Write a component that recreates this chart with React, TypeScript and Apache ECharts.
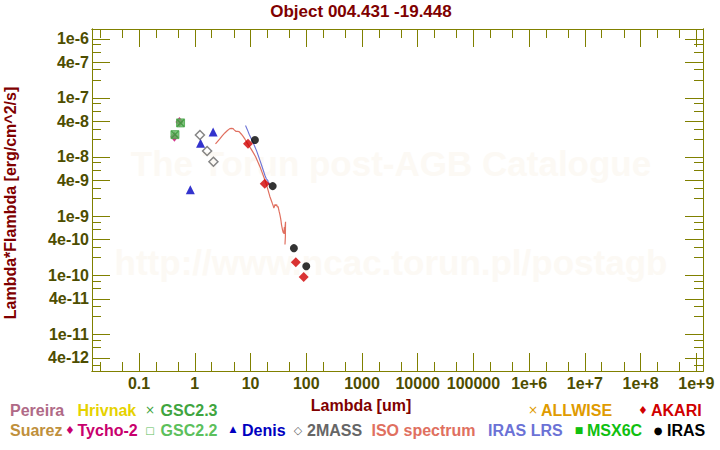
import React, { useEffect, useRef } from "react";
import * as echarts from "echarts";

const TITLE = "Object 004.431 -19.448";
const X_TITLE = "Lambda [um]";
const Y_TITLE = "Lambda*Flambda [erg/cm^2/s]";
const WATERMARK_1 = "The Torun post-AGB Catalogue";
const WATERMARK_2 = "http://www.ncac.torun.pl/postagb";

// axis ranges (real units)
const X_RANGE = [0.01429, 1.318e9];
const Y_RANGE = [2.4e-12, 1.462e-6];

// tick labels
const xTickValues = [0.1, 1, 10, 100, 1000, 1e4, 1e5, 1e6, 1e7, 1e8, 1e9];
const xTickLabels = ["0.1", "1", "10", "100", "1000", "10000", "100000", "1e+6", "1e+7", "1e+8", "1e+9"];
const yTickValues = [1e-6, 4e-7, 1e-7, 4e-8, 1e-8, 4e-9, 1e-9, 4e-10, 1e-10, 4e-11, 1e-11, 4e-12];
const yTickLabels = ["1e-6", "4e-7", "1e-7", "4e-8", "1e-8", "4e-9", "1e-9", "4e-10", "1e-10", "4e-11", "1e-11", "4e-12"];
const xMinorMantissas = [2, 5];
const yMajorMantissas = [1, 4];
const yMinorMantissas = [2, 3, 6, 8];

// photometry [wavelength um, lambda*F_lambda]
const tycho2 = [[0.43, 2.2e-8], [0.53, 3.9e-8]];
const gsc22 = [[0.44, 2.39e-8], [0.555, 3.77e-8]];
const gsc23 = [[0.44, 2.39e-8], [0.555, 3.77e-8]];
const denis = [[0.83, 2.79e-9], [1.27, 1.71e-8], [2.13, 2.65e-8]];
const twoMass = [[1.235, 2.36e-8], [1.662, 1.26e-8], [2.159, 8.3e-9]];
const akari = [[9, 1.68e-8], [18, 3.52e-9], [65, 1.66e-10], [90, 9.35e-11]];
const iras = [[12, 1.94e-8], [25, 3.22e-9], [60, 2.87e-10], [100, 1.42e-10]];
const pereira: number[][] = [];
const hrivnak: number[][] = [];
const suarez: number[][] = [];
const allwise: number[][] = [];
const msx6c: number[][] = [];

const isoSpectrum = [
  [2.35, 1.66e-8], [2.55, 1.82e-8], [2.81, 2.02e-8], [3.1, 2.28e-8], [3.46, 2.55e-8],
  [3.85, 2.8e-8], [4.25, 3.02e-8], [4.55, 3.05e-8], [4.87, 3.02e-8], [5.15, 2.85e-8],
  [5.45, 2.72e-8], [5.8, 2.72e-8], [6.24, 2.69e-8], [6.8, 2.45e-8], [7.36, 2.23e-8],
  [8.0, 1.98e-8], [8.69, 1.73e-8], [9.5, 1.52e-8], [10.4, 1.33e-8], [11.4, 1.15e-8],
  [12.4, 1.0e-8], [13.5, 8.3e-9], [14.7, 6.93e-9], [16.0, 5.6e-9], [17.3, 4.58e-9],
  [18.6, 3.8e-9], [19.9, 3.1e-9], [21.0, 2.6e-9], [22.2, 2.15e-9], [23.5, 1.85e-9],
  [24.8, 1.61e-9], [25.5, 1.5e-9], [26.2, 1.37e-9], [26.8, 1.45e-9], [27.5, 1.58e-9],
  [28.5, 1.5e-9], [29.5, 1.56e-9], [30.3, 1.42e-9], [31.2, 1.46e-9], [32.0, 1.3e-9],
  [32.6, 1.2e-9], [33.5, 1.08e-9], [34.6, 9.25e-10], [35.3, 8.2e-10], [36.0, 7.13e-10],
  [36.8, 6.4e-10], [37.5, 5.86e-10], [38.5, 5.3e-10], [39.6, 5.1e-10], [40.5, 6.5e-10],
  [41.0, 5.0e-10], [41.8, 6.8e-10], [42.5, 8.0e-10], [42.2, 4.5e-10], [41.5, 3.3e-10],
];

const irasLrs = [
  [8.13, 3.4e-8], [8.77, 2.9e-8], [9.44, 2.43e-8], [10.3, 2.04e-8], [11.1, 1.78e-8],
  [11.9, 1.5e-8], [12.8, 1.28e-8], [13.8, 1.05e-8], [14.7, 8.83e-9], [15.7, 7.4e-9],
  [16.8, 6.09e-9], [18.1, 4.92e-9], [19.2, 4.29e-9], [20.5, 3.97e-9], [21.3, 3.39e-9],
  [22.2, 3.66e-9],
];

const FONT = "'Liberation Sans', Arial, sans-serif";
const OLIVE = "#808000";
const LABEL = "#4d4d00";
const DARKRED = "#800000";

const lg = Math.log10;
const toLog = (d: number[][]) => d.map(([x, y]) => [lg(x), lg(y)]);

function ticksFor(mants: number[], e0: number, e1: number, lo: number, hi: number) {
  const out: number[] = [];
  for (let e = e0; e <= e1; e++) for (const m of mants) {
    const v = lg(m) + e;
    if (v >= lo - 1e-9 && v <= hi + 1e-9) out.push(v);
  }
  return out;
}

function findLabel(v: number, vals: number[], labels: string[]) {
  for (let i = 0; i < vals.length; i++) if (Math.abs(lg(vals[i]) - v) < 1e-6) return labels[i];
  return "";
}

export default function App() {
  const ref = useRef<HTMLDivElement>(null);
  useEffect(() => {
    if (!ref.current) return;
    const chart = echarts.init(ref.current, undefined, { renderer: "svg" });
    const xmin = lg(X_RANGE[0]), xmax = lg(X_RANGE[1]);
    const ymin = lg(Y_RANGE[0]), ymax = lg(Y_RANGE[1]);
    const xMajor = xTickValues.map(lg);
    const xMinor = ticksFor(xMinorMantissas, -3, 10, xmin, xmax);
    const yMajor = ticksFor(yMajorMantissas, -13, -5, ymin, ymax);
    const yMinor = ticksFor(yMinorMantissas, -13, -5, ymin, ymax);
    const yLabels = yTickValues.map(lg);

    const axisBase = {
      type: "value",
      splitLine: { show: false },
      axisLine: { show: true, onZero: false, lineStyle: { color: OLIVE, width: 1 } },
    };
    const mkX = (position: string, ticks: number[], len: number, labels: boolean) => ({
      ...axisBase, min: xmin, max: xmax, position,
      axisTick: { show: true, inside: true, length: len, customValues: ticks, lineStyle: { color: OLIVE, width: 1 } },
      axisLabel: labels ? {
        show: true, customValues: xMajor, margin: 4, color: LABEL, fontSize: 16, fontWeight: "bold", fontFamily: FONT,
        formatter: (v: number) => findLabel(v, xTickValues, xTickLabels),
      } : { show: false },
    });
    const mkY = (position: string, ticks: number[], len: number, labels: boolean) => ({
      ...axisBase, min: ymin, max: ymax, position,
      axisTick: { show: true, inside: true, length: len, customValues: ticks, lineStyle: { color: OLIVE, width: 1 } },
      axisLabel: labels ? {
        show: true, customValues: yLabels, margin: 3, color: LABEL, fontSize: 16, fontWeight: "bold", fontFamily: FONT,
        formatter: (v: number) => findLabel(v, yTickValues, yTickLabels),
      } : { show: false },
    });

    const txt = (text: string, x: number, y: number, color: string, size = 16, align = "left", extra: any = {}) => ({
      type: "text", x, y, z: 10, ...extra,
      style: { text, fill: color, font: `bold ${size}px ${FONT}`, textAlign: align, textVerticalAlign: "middle" },
    });
    const sym = (ch: string, x: number, y: number, color: string, size = 11) => ({
      type: "text", x, y, z: 10,
      style: { text: ch, fill: color, font: `${size}px 'DejaVu Sans', sans-serif`, textAlign: "center", textVerticalAlign: "middle" },
    });

    const legendItems = [
      txt("Pereira", 10, 410, "#b06a87"),
      txt("Hrivnak", 77.5, 410, "#e6d200"),
      sym("×", 150, 410, "#3fa53f", 12),
      txt("GSC2.3", 160.6, 410, "#3fa53f"),
      sym("×", 533, 410, "#e09b00", 12),
      txt("ALLWISE", 541, 410, "#e09b00"),
      sym("♦", 643, 410, "#d00000", 11),
      txt("AKARI", 651, 410, "#d00000"),
      txt("Suarez", 10, 430, "#c0903c"),
      sym("♦", 70, 430, "#c8006e", 11),
      txt("Tycho-2", 77.5, 430, "#c8006e"),
      sym("□", 150, 430, "#5cc05c", 10),
      txt("GSC2.2", 160.6, 430, "#5cc05c"),
      sym("▲", 233, 429, "#0000c0", 9),
      txt("Denis", 242, 430, "#0000c0"),
      sym("◇", 298, 430, "#666666", 11),
      txt("2MASS", 307, 430, "#666666"),
      txt("ISO spectrum", 371.5, 430, "#e07060"),
      txt("IRAS LRS", 488, 430, "#6b72d6"),
      sym("■", 579, 430, "#10c010", 9),
      txt("MSX6C", 587, 430, "#10c010"),
      sym("●", 658, 430, "#000000", 10),
      txt("IRAS", 667, 430, "#000000"),
    ];

    const scatter = (name: string, data: number[][], symbol: string, size: any, itemStyle: any) => ({
      name, type: "scatter", data: toLog(data), symbol, symbolSize: size, itemStyle,
      xAxisIndex: 0, yAxisIndex: 0, silent: true,
    });

    chart.setOption({
      animation: false,
      grid: { left: 92, right: 17, top: 29, bottom: 79, containLabel: false },
      xAxis: [
        mkX("bottom", xMajor, 18, true),
        mkX("bottom", xMinor, 9, false),
        mkX("top", xMajor, 18, false),
        mkX("top", xMinor, 9, false),
      ],
      yAxis: [
        mkY("left", yMajor, 18, true),
        mkY("left", yMinor, 9, false),
        mkY("right", yMajor, 18, false),
        mkY("right", yMinor, 9, false),
      ],
      graphic: [
        { type: "text", x: 391, y: 163, z: 0, silent: true,
          style: { text: WATERMARK_1, fill: "#fcf9f4", font: `bold 35px ${FONT}`, textAlign: "center", textVerticalAlign: "middle" } },
        { type: "text", x: 391, y: 262, z: 0, silent: true,
          style: { text: WATERMARK_2, fill: "#fcf9f4", font: `bold 35px ${FONT}`, textAlign: "center", textVerticalAlign: "middle" } },
        txt(TITLE, 361, 11, DARKRED, 17, "center"),
        txt(X_TITLE, 361, 405, DARKRED, 16, "center"),
        txt(Y_TITLE, 10, 203, DARKRED, 16, "center", { rotation: Math.PI / 2 }),
        ...legendItems,
      ],
      series: [
        { name: "Pereira", type: "scatter", data: toLog(pereira) },
        { name: "Hrivnak", type: "scatter", data: toLog(hrivnak) },
        { name: "Suarez", type: "scatter", data: toLog(suarez) },
        { name: "ALLWISE", type: "scatter", data: toLog(allwise) },
        { name: "MSX6C", type: "scatter", data: toLog(msx6c) },
        {
          name: "ISO spectrum", type: "line", data: toLog(isoSpectrum), showSymbol: false, silent: true,
          lineStyle: { color: "#e07060", width: 1.2 }, z: 2,
        },
        {
          name: "IRAS LRS", type: "line", data: toLog(irasLrs), showSymbol: false, silent: true,
          lineStyle: { color: "#6b72d6", width: 1.1 }, z: 2,
        },
        scatter("Tycho-2", tycho2, "diamond", [8, 10], { color: "#c8006e" }),
        scatter("GSC2.2", gsc22, "rect", 8, { color: "#5cb85c", borderColor: "#4aa84a", borderWidth: 1 }),
        scatter("GSC2.3", gsc23, "path://M0,0L10,10M10,0L0,10", 7, { color: "rgba(0,0,0,0)", borderColor: "#3a963a", borderWidth: 1.3 }),
        scatter("Denis", denis, "triangle", 9, { color: "#0000c0" }),
        scatter("2MASS", twoMass, "diamond", 9, { color: "rgba(255,255,255,0)", borderColor: "#666666", borderWidth: 1.5 }),
        scatter("AKARI", akari, "diamond", 10, { color: "#d00000" }),
        scatter("IRAS", iras, "circle", 8, { color: "#000000" }),
      ],
    });
    return () => chart.dispose();
  }, []);
  return <div ref={ref} style={{ position: "absolute", left: 0, top: 0, width: 720, height: 450 }} />;
}
